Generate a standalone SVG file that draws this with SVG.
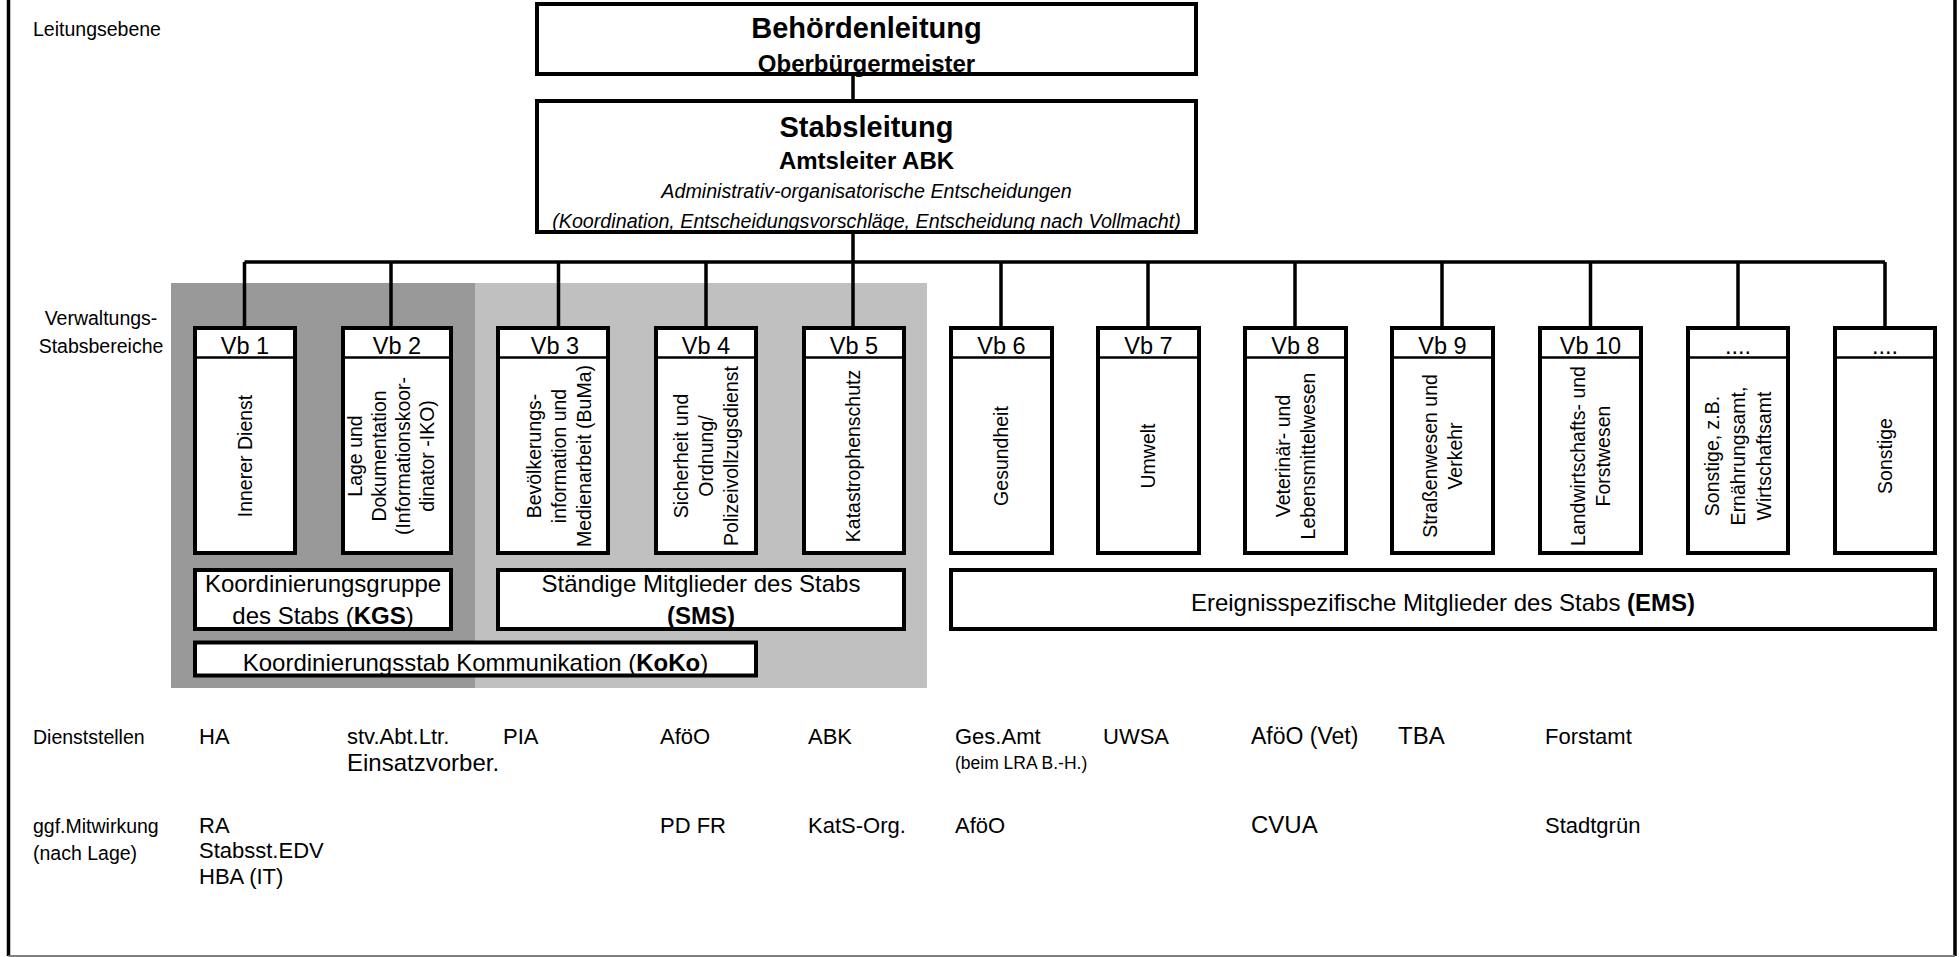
<svg xmlns="http://www.w3.org/2000/svg" width="1959" height="957" viewBox="0 0 1959 957">
<style>
.box{fill:#fff;stroke:#000;stroke-width:4}
.sep{stroke:#000;stroke-width:2.5}
.conn{stroke:#000;stroke-width:3.5;fill:none}
text{font-family:"Liberation Sans",Arial,Helvetica,sans-serif;fill:#000}
.lbl{font-size:19.5px}
.ent{font-size:22px}
.big{font-size:24px}
.vb{font-size:23.5px;text-anchor:middle}
.vt{font-size:19.5px;text-anchor:middle}
.grp{font-size:24px;text-anchor:middle}
.mid{text-anchor:middle}
</style>
<rect width="1959" height="957" fill="#fff"/>
<g id="frame">
<path d="M8.5,0 V956 M1955,0 V956" stroke="#000" stroke-width="3.5" fill="none"/>
<path d="M8.5,956 H1955" stroke="#808080" stroke-width="2" fill="none"/>
</g>
<g id="areas">
<rect x="171" y="283" width="304" height="405" fill="#999999"/>
<rect x="475" y="283" width="452" height="405" fill="#c0c0c0"/>
</g>
<g id="level-labels">
<text class="lbl" x="33" y="36">Leitungsebene</text>
<text class="lbl mid" x="101" y="325">Verwaltungs-</text>
<text class="lbl mid" x="101" y="353">Stabsbereiche</text>
</g>
<g id="connectors">
<path class="conn" d="M853,74 V101 M853,232 V328 M244.5,262 H1885 M244.5,262 V328 M391,262 V328 M558.5,262 V328 M706,262 V328 M1001,262 V328 M1148,262 V328 M1295,262 V328 M1442,262 V328 M1590.5,262 V328 M1738,262 V328 M1885,262 V328"/>
</g>
<g id="behoerdenleitung">
<rect class="box" x="537" y="4" width="659" height="70"/>
<text x="866.5" y="38" class="mid" font-size="29" font-weight="bold">Behördenleitung</text>
<text x="866.5" y="72" class="mid" font-size="24" font-weight="bold">Oberbürgermeister</text>
</g>
<g id="stabsleitung">
<rect class="box" x="537" y="101" width="659" height="131"/>
<text x="866.5" y="137" class="mid" font-size="29" font-weight="bold">Stabsleitung</text>
<text x="866.5" y="169" class="mid" font-size="24" font-weight="bold">Amtsleiter ABK</text>
<text x="866.5" y="197.5" class="mid" font-size="19.7" font-style="italic">Administrativ-organisatorische Entscheidungen</text>
<text x="866.5" y="227.5" class="mid" font-size="19.7" font-style="italic">(Koordination, Entscheidungsvorschläge, Entscheidung nach Vollmacht)</text>
</g>
<g id="vb1">
<rect class="box" x="195" y="328" width="100" height="225"/><line class="sep" x1="195" y1="357.5" x2="295" y2="357.5"/>
<text class="vb" x="245" y="354">Vb 1</text>
<text class="vt" transform="translate(251.5,456) rotate(-90)">Innerer Dienst</text>
</g>
<g id="vb2">
<rect class="box" x="343" y="328" width="108" height="225"/><line class="sep" x1="343" y1="357.5" x2="451" y2="357.5"/>
<text class="vb" x="397" y="354">Vb 2</text>
<text class="vt" transform="translate(362,456) rotate(-90)"><tspan x="0" y="0">Lage und</tspan><tspan x="0" dy="24">Dokumentation</tspan><tspan x="0" dy="24">(Informationskoor-</tspan><tspan x="0" dy="24">dinator -IKO)</tspan></text>
</g>
<g id="vb3">
<rect class="box" x="498" y="328" width="110" height="225"/><line class="sep" x1="498" y1="357.5" x2="608" y2="357.5"/>
<text class="vb" x="555" y="354">Vb 3</text>
<text class="vt" transform="translate(540.5,456) rotate(-90)"><tspan x="0" y="0">Bevölkerungs-</tspan><tspan x="0" dy="25">information und</tspan><tspan x="0" dy="25">Medienarbeit (BuMa)</tspan></text>
</g>
<g id="vb4">
<rect class="box" x="656" y="328" width="100" height="225"/><line class="sep" x1="656" y1="357.5" x2="756" y2="357.5"/>
<text class="vb" x="706" y="354">Vb 4</text>
<text class="vt" transform="translate(688,456) rotate(-90)"><tspan x="0" y="0">Sicherheit und</tspan><tspan x="0" dy="25">Ordnung/</tspan><tspan x="0" dy="25">Polizeivollzugsdienst</tspan></text>
</g>
<g id="vb5">
<rect class="box" x="804" y="328" width="100" height="225"/><line class="sep" x1="804" y1="357.5" x2="904" y2="357.5"/>
<text class="vb" x="854" y="354">Vb 5</text>
<text class="vt" transform="translate(860,456) rotate(-90)">Katastrophenschutz</text>
</g>
<g id="vb6">
<rect class="box" x="951" y="328" width="101" height="225"/><line class="sep" x1="951" y1="357.5" x2="1052" y2="357.5"/>
<text class="vb" x="1001.5" y="354">Vb 6</text>
<text class="vt" transform="translate(1008,456) rotate(-90)">Gesundheit</text>
</g>
<g id="vb7">
<rect class="box" x="1098" y="328" width="101" height="225"/><line class="sep" x1="1098" y1="357.5" x2="1199" y2="357.5"/>
<text class="vb" x="1148.5" y="354">Vb 7</text>
<text class="vt" transform="translate(1155,456) rotate(-90)">Umwelt</text>
</g>
<g id="vb8">
<rect class="box" x="1245" y="328" width="101" height="225"/><line class="sep" x1="1245" y1="357.5" x2="1346" y2="357.5"/>
<text class="vb" x="1295.5" y="354">Vb 8</text>
<text class="vt" transform="translate(1289.5,456) rotate(-90)"><tspan x="0" y="0">Veterinär- und</tspan><tspan x="0" dy="25">Lebensmittelwesen</tspan></text>
</g>
<g id="vb9">
<rect class="box" x="1392" y="328" width="101" height="225"/><line class="sep" x1="1392" y1="357.5" x2="1493" y2="357.5"/>
<text class="vb" x="1442.5" y="354">Vb 9</text>
<text class="vt" transform="translate(1436.5,456) rotate(-90)"><tspan x="0" y="0">Straßenwesen und</tspan><tspan x="0" dy="25">Verkehr</tspan></text>
</g>
<g id="vb10">
<rect class="box" x="1540" y="328" width="101" height="225"/><line class="sep" x1="1540" y1="357.5" x2="1641" y2="357.5"/>
<text class="vb" x="1590.5" y="354">Vb 10</text>
<text class="vt" transform="translate(1584.5,456) rotate(-90)"><tspan x="0" y="0">Landwirtschafts- und</tspan><tspan x="0" dy="25">Forstwesen</tspan></text>
</g>
<g id="vb11">
<rect class="box" x="1688" y="328" width="100" height="225"/><line class="sep" x1="1688" y1="357.5" x2="1788" y2="357.5"/>
<text class="vb" x="1738" y="354">....</text>
<text class="vt" transform="translate(1719,456) rotate(-90)"><tspan x="0" y="0">Sonstige, z.B.</tspan><tspan x="0" dy="26">Ernährungsamt,</tspan><tspan x="0" dy="26">Wirtschaftsamt</tspan></text>
</g>
<g id="vb12">
<rect class="box" x="1835" y="328" width="100" height="225"/><line class="sep" x1="1835" y1="357.5" x2="1935" y2="357.5"/>
<text class="vb" x="1885" y="354">....</text>
<text class="vt" transform="translate(1892,456) rotate(-90)">Sonstige</text>
</g>
<g id="kgs">
<rect class="box" x="195" y="570" width="256" height="59"/>
<text class="grp" x="323" y="592">Koordinierungsgruppe</text>
<text class="grp" x="323" y="624">des Stabs (<tspan font-weight="bold">KGS</tspan>)</text>
</g>
<g id="sms">
<rect class="box" x="498" y="570" width="406" height="59"/>
<text class="grp" x="701" y="592">Ständige Mitglieder des Stabs</text>
<text class="grp" x="701" y="624" font-weight="bold">(SMS)</text>
</g>
<g id="koko">
<rect class="box" x="195" y="642.5" width="561" height="33"/>
<text class="grp" x="475.5" y="670.5">Koordinierungsstab Kommunikation (<tspan font-weight="bold">KoKo</tspan>)</text>
</g>
<g id="ems">
<rect class="box" x="951" y="570" width="984" height="59"/>
<text class="grp" x="1443" y="611">Ereignisspezifische Mitglieder des Stabs <tspan font-weight="bold">(EMS)</tspan></text>
</g>
<g id="dienststellen">
<text class="lbl" x="33" y="744">Dienststellen</text>
<text class="ent" x="199" y="744">HA</text>
<text class="ent" x="347" y="744">stv.Abt.Ltr.</text>
<text class="big" x="347" y="771">Einsatzvorber.</text>
<text class="ent" x="503" y="744">PIA</text>
<text class="ent" x="660" y="744">AföO</text>
<text class="ent" x="808" y="744">ABK</text>
<text class="ent" x="955" y="744">Ges.Amt</text>
<text x="955" y="769" font-size="17.5">(beim LRA B.-H.)</text>
<text class="ent" x="1103" y="744">UWSA</text>
<text x="1251" y="744" font-size="23">AföO (Vet)</text>
<text class="big" x="1398" y="744">TBA</text>
<text class="ent" x="1545" y="744">Forstamt</text>
</g>
<g id="mitwirkung">
<text class="lbl" x="33" y="833">ggf.Mitwirkung</text>
<text class="lbl" x="33" y="860">(nach Lage)</text>
<text class="ent" x="199" y="833">RA</text>
<text class="ent" x="199" y="858">Stabsst.EDV</text>
<text class="ent" x="199" y="884">HBA (IT)</text>
<text class="ent" x="660" y="833">PD FR</text>
<text class="ent" x="808" y="833">KatS-Org.</text>
<text class="ent" x="955" y="833">AföO</text>
<text class="big" x="1251" y="833">CVUA</text>
<text class="ent" x="1545" y="833">Stadtgrün</text>
</g>
</svg>
